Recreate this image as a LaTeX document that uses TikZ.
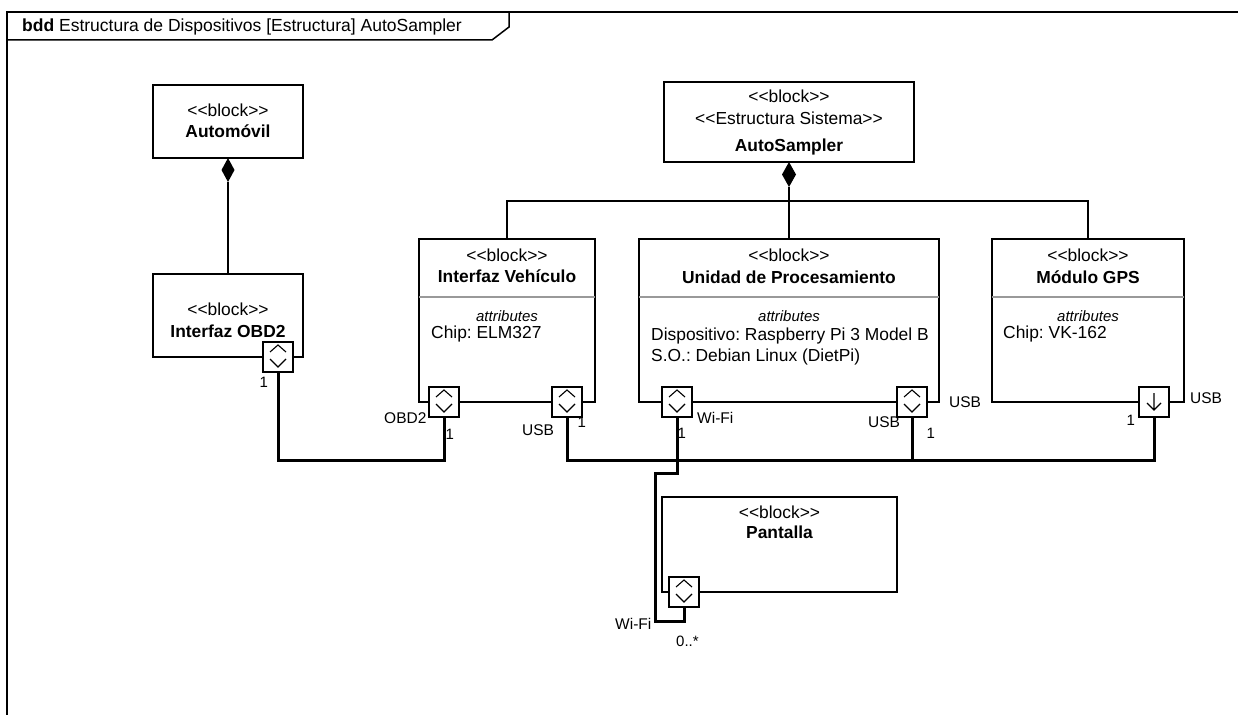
\documentclass[tikz,border=0pt]{standalone}
\usepackage{fontspec}
\setmainfont{Liberation Sans}
\usetikzlibrary{calc}
% stereotype text without the << >> ligature mapping
\newcommand{\stereo}[1]{<\kern0pt<#1>\kern0pt>}
\frenchspacing
\begin{document}
\begin{tikzpicture}[x=1pt,y=-1pt,
  blockbox/.style={draw, line width=1.4pt, fill=white, inner sep=0pt, outer sep=0pt, anchor=north west},
  portbox/.style={draw, line width=1.4pt, fill=white, minimum size=30pt, inner sep=0pt, outer sep=0pt},
  wire/.style={line width=3pt},
  link/.style={line width=1.5pt},
  compsep/.style={line width=2pt, draw=black!40},
  frameline/.style={line width=2pt},
  stereotxt/.style={inner sep=0pt, anchor=base, font=\fontsize{17.4}{20}\selectfont},
  nametxt/.style={inner sep=0pt, anchor=base, font=\fontsize{17.4}{20}\selectfont\bfseries},
  attrhead/.style={inner sep=0pt, anchor=base, font=\fontsize{15}{18}\selectfont\itshape},
  attrline/.style={inner sep=0pt, anchor=base west, font=\fontsize{17.4}{20}\selectfont},
  portlbl/.style={inner sep=0pt, anchor=base west, font=\fontsize{15.5}{18}\selectfont},
  multlbl/.style={inner sep=0pt, anchor=base west, font=\fontsize{15}{18}\selectfont},
  bidir/.pic={\draw[line width=1.1pt] (-8,-5) -- (0,-12) -- (8,-5) (-8,2) -- (0,10) -- (8,2);},
  outdir/.pic={\draw[line width=1.1pt] (0,-9) -- (0,8) (-7,1) -- (0,8) -- (7,1);}
]
\useasboundingbox (0,0) rectangle (1238,714);

% diagram frame with its name tab
\draw[frameline] (1240,12) -- (7,12) -- (7,716);
\draw[link] (7,40) -- (492,40) -- (509,27) -- (509,12);
\node[inner sep=0pt, anchor=base west, font=\fontsize{17.5}{20}\selectfont] (title) at (22,32)
  {\textbf{bdd} Estructura de Dispositivos [Estructura] AutoSampler};

% blocks
\node[blockbox, minimum width=150pt, minimum height=73pt] (auto) at (153,85) {};
\node[blockbox, minimum width=150pt, minimum height=83pt] (obd) at (153,274) {};
\node[blockbox, minimum width=250pt, minimum height=80pt] (sys) at (664,82) {};
\node[blockbox, minimum width=176pt, minimum height=163pt] (veh) at (419,239) {};
\node[blockbox, minimum width=300pt, minimum height=163pt] (proc) at (639,239) {};
\node[blockbox, minimum width=192pt, minimum height=163pt] (gps) at (992,239) {};
\node[blockbox, minimum width=235pt, minimum height=95pt] (pant) at (662,497) {};

% compartment separators
\foreach \b in {veh,proc,gps}
  \draw[compsep] ($(\b.north west)+(0,58)$) -- ($(\b.north east)+(0,58)$);

% block texts
\node[stereotxt] (autoS) at (228,117) {\stereo{block}};
\node[nametxt] (autoN) at (228,138) {Automóvil};
\node[stereotxt] (obdS) at (228,315) {\stereo{block}};
\node[nametxt] (obdN) at (228,337) {Interfaz OBD2};
\node[stereotxt] (sysS) at (789,103) {\stereo{block}};
\node[stereotxt] (sysS2) at (789,125) {\stereo{Estructura Sistema}};
\node[nametxt] (sysN) at (789,152) {AutoSampler};
\node[stereotxt] (vehS) at (507,261) {\stereo{block}};
\node[nametxt] (vehN) at (507,282) {Interfaz Vehículo};
\node[attrhead] (vehA) at (507,321) {attributes};
\node[attrline] (vehA1) at (431,338) {Chip: ELM327};
\node[stereotxt] (procS) at (789,261) {\stereo{block}};
\node[nametxt] (procN) at (789,283) {Unidad de Procesamiento};
\node[attrhead] (procA) at (789,321) {attributes};
\node[attrline] (procA1) at (651,340) {Dispositivo: Raspberry Pi 3 Model B};
\node[attrline] (procA2) at (651,361) {S.O.: Debian Linux (DietPi)};
\node[stereotxt] (gpsS) at (1088,261) {\stereo{block}};
\node[nametxt] (gpsN) at (1088,283) {Módulo GPS};
\node[attrhead] (gpsA) at (1088,321) {attributes};
\node[attrline] (gpsA1) at (1003,338) {Chip: VK-162};
\node[stereotxt] (pantS) at (779.5,518) {\stereo{block}};
\node[nametxt] (pantN) at (779.5,538) {Pantalla};

% composition links
\fill (auto.south) -- ++(6.5,12) -- ++(-6.5,12) -- ++(-6.5,-12) -- cycle;
\coordinate (autoD) at ($(auto.south)+(0,24)$);
\draw[link] (autoD) -- (obd.north);
\fill (sys.south) -- ++(7,12.5) -- ++(-7,12.5) -- ++(-7,-12.5) -- cycle;
\coordinate (sysD) at ($(sys.south)+(0,25)$);
\draw[link] (sysD) -- (proc.north);
\draw[link] (veh.north) -- ++(0,-38) -| (gps.north);

% ports
\coordinate (pobdC) at (278,357);
\coordinate (vobdC) at (444,402);
\coordinate (vusbC) at (567,402);
\coordinate (pwifiC) at (677,402);
\coordinate (pusbC) at (912,402);
\coordinate (gusbC) at (1154,402);
\coordinate (dwifiC) at (684,592);

% connectors
\draw[wire] ($(pobdC)+(0,15)$) -- ++(0,88) -| ($(vobdC)+(0,15)$);
\draw[wire] ($(vusbC)+(0,15)$) -- ++(0,43) -| ($(gusbC)+(0,15)$);
\draw[wire] ($(pusbC)+(0,15)$) -- ++(0,43);
\draw[wire] ($(pwifiC)+(0,15)$) -- ++(0,56) -- ++(-22,0) -- ++(0,148) -| ($(dwifiC)+(0,15)$);

\foreach \p in {pobd,vobd,vusb,pwifi,pusb,gusb,dwifi}
  \node[portbox] (\p) at (\p C) {};
\foreach \p in {pobd,vobd,vusb,pwifi,pusb,dwifi}
  \pic at (\p) {bidir};
\pic at (gusb) {outdir};

% port names and multiplicities
\node[multlbl] (m1) at (259.5,387) {1};
\node[portlbl] (l1) at (384,423) {OBD2};
\node[multlbl] (m2) at (445.5,439) {1};
\node[portlbl] (l2) at (522,435) {USB};
\node[multlbl] (m3) at (577.5,427) {1};
\node[portlbl] (l3) at (697,423) {Wi-Fi};
\node[multlbl] (m4) at (677.5,438) {1};
\node[portlbl] (l4) at (868,427) {USB};
\node[multlbl] (m5) at (926.5,438) {1};
\node[portlbl] (l5) at (949,407) {USB};
\node[multlbl] (m6) at (1126.5,425) {1};
\node[portlbl] (l6) at (1190,403) {USB};
\node[portlbl] (l7) at (615,629) {Wi-Fi};
\node[multlbl] (m7) at (676,646) {0..*};
\end{tikzpicture}
\end{document}
